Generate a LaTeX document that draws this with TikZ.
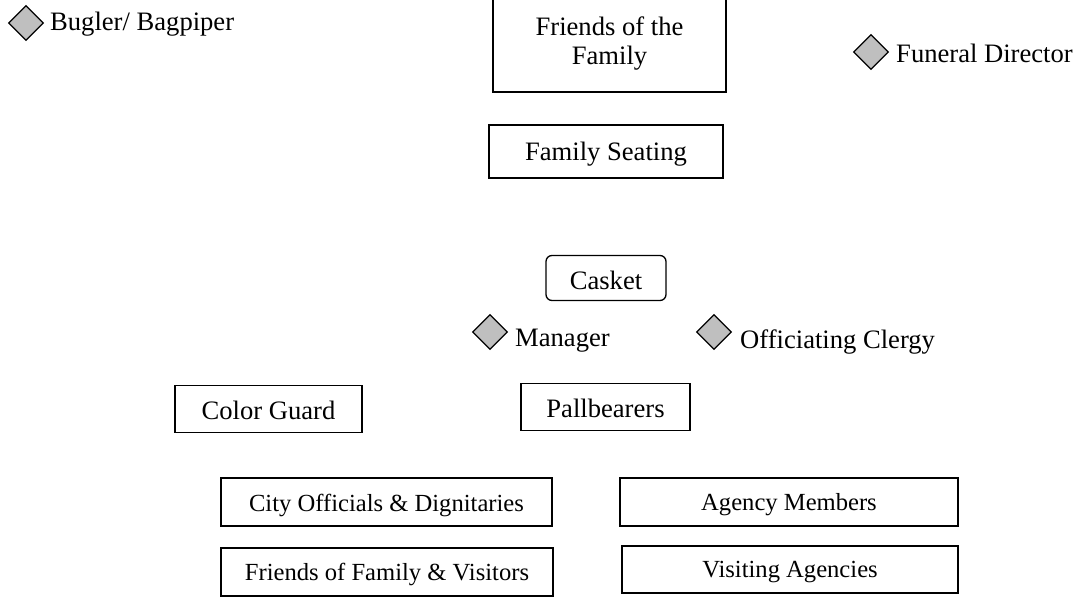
\documentclass[tikz,border=0pt]{standalone}
\usepackage{fontspec}
\setmainfont{Liberation Serif}
\usetikzlibrary{shapes.geometric}
\newcommand{\lowr}[2]{\raisebox{-#1}[\height][\depth]{#2}}
\tikzset{
  box/.style={draw=black, line width=1.3pt, fill=white, inner sep=0pt},
  rbox/.style={box, rounded corners=6pt},
  smalltext/.style={font=\fontsize{24.6}{30}\selectfont},
  dia/.style={draw=black, line width=1.2pt, fill=gray!50, diamond, minimum width=35pt, minimum height=35pt, inner sep=0pt},
  lab/.style={anchor=west, inner sep=0pt},
}
\begin{document}
\begin{tikzpicture}[x=1pt, y=-1pt, font=\fontsize{26.6}{32}\selectfont]
\useasboundingbox (0,0) rectangle (1083,597);
% boxes
\node[box, minimum width=233pt, minimum height=96pt] (fof) at (609.5,44) {};
\node (foft) at (609.5,26) {Friends of the};
\node (fofb) at (609.5,58) {Family};
\node[box, minimum width=234pt, minimum height=53pt] (fs) at (606,151.5) {\lowr{3pt}{Family Seating}};
\node[rbox, minimum width=120pt, minimum height=45pt] (ck) at (606,278) {\lowr{2pt}{Casket}};
\node[box, minimum width=187pt, minimum height=47pt] (cg) at (268.5,409) {\lowr{1pt}{Color Guard}};
\node[box, minimum width=169pt, minimum height=47pt] (pb) at (605.5,407) {\lowr{1pt}{Pallbearers}};
\node[box, smalltext, minimum width=331pt, minimum height=48pt] (co) at (386.5,502) {\lowr{3pt}{City Officials \& Dignitaries}};
\node[box, smalltext, minimum width=338pt, minimum height=48pt] (am) at (789,502) {\lowr{3pt}{Agency Members}};
\node[box, smalltext, minimum width=332pt, minimum height=48pt] (ff) at (387,572) {\lowr{2.5pt}{Friends of Family \& Visitors}};
\node[box, smalltext, minimum width=336pt, minimum height=47pt] (va) at (790,569.5) {\lowr{3pt}{Visiting Agencies}};
% diamonds
\node[dia] (d1) at (26,23) {};
\node[lab] (t1) at (50,24) {Bugler/ Bagpiper};
\node[dia] (d2) at (871,52) {};
\node[lab] (t2) at (896,53) {Funeral Director};
\node[dia] (d3) at (490,332) {};
\node[lab] (t3) at (515,341) {Manager};
\node[dia] (d4) at (714,332) {};
\node[lab] (t4) at (740,342) {Officiating Clergy};
\end{tikzpicture}
\end{document}
